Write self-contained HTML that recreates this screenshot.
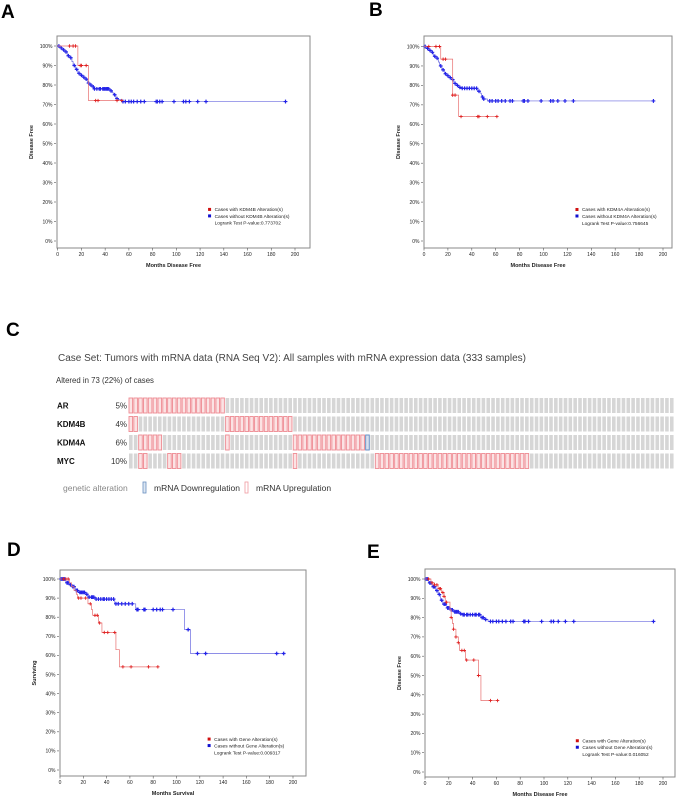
<!DOCTYPE html>
<html><head><meta charset="utf-8"><style>
html,body{margin:0;padding:0;background:#fff}
svg{display:block}
text{font-family:"Liberation Sans",sans-serif}
</style></head><body>
<svg id="fig" width="680" height="801" viewBox="0 0 680 801" xmlns="http://www.w3.org/2000/svg">
<text x="1" y="18" font-size="19" font-weight="bold">A</text>
<text x="369" y="16" font-size="19" font-weight="bold">B</text>
<text x="6" y="336" font-size="19" font-weight="bold">C</text>
<text x="7" y="556" font-size="19" font-weight="bold">D</text>
<text x="367" y="558" font-size="19" font-weight="bold">E</text>
<g id="oncoprint">
<text x="58" y="361" font-size="10" fill="#444">Case Set: Tumors with mRNA data (RNA Seq V2): All samples with mRNA expression data (333 samples)</text>
<text x="56" y="383" font-size="7.8" fill="#333">Altered in 73 (22%) of cases</text>
<text x="63" y="491" font-size="8.5" fill="#888">genetic alteration</text>
<rect x="143" y="482" width="3" height="11" fill="#dde6f2" stroke="#6a90c0" stroke-width="0.8"/>
<text x="154" y="491" font-size="8.5" fill="#333">mRNA Downregulation</text>
<rect x="245" y="482" width="3" height="11" fill="#fff" stroke="#f09aa0" stroke-width="0.8"/>
<text x="256" y="491" font-size="8.5" fill="#333">mRNA Upregulation</text>
</g>
</svg>
<script>
const NS="http://www.w3.org/2000/svg";
const svg=document.getElementById('fig');
function mk(tag,attrs,parent){const e=document.createElementNS(NS,tag);for(const k in attrs)e.setAttribute(k,attrs[k]);(parent||svg).appendChild(e);return e;}

// ---------- Oncoprint data ----------
const genes=["AR","KDM4B","KDM4A","MYC"];
const genePct=["5%","4%","6%","10%"];
const sampleCount=113;
const upAR=[0,19];
const upKDM4B=[[0,1],[20,33]];
const upKDM4A=[[2,6],[20,20],[34,48]];
const downKDM4A=[[49,49]];
const upMYC=[[2,3],[8,10],[34,34],[51,82]];
const upRanges=[[upAR],upKDM4B,upKDM4A,upMYC];
const downRanges=[[],[],downKDM4A,[]];

(function(){
  const g=document.getElementById('oncoprint');
  const x0=129,pitch=4.83,bw=3.6,rowTop=[398,416.5,435,453.5],bh=15;
  function inR(r,i){return r.some(a=>i>=a[0]&&i<=a[1]);}
  genes.forEach((gn,r)=>{
    const t=mk('text',{x:57,y:rowTop[r]+10.5,'font-size':8,'font-weight':'bold',fill:'#111'},g);t.textContent=gn;
    
    
    const p=mk('text',{x:127,y:rowTop[r]+10.5,'font-size':8,fill:'#333','text-anchor':'end'},g);p.textContent=genePct[r];
    
    
    for(let i=0;i<sampleCount;i++){
      const up=inR(upRanges[r],i),dn=inR(downRanges[r],i);
      const a={x:x0+i*pitch,y:rowTop[r],width:bw,height:bh,fill:'#d6d6d6'};
      if(up){a.fill='#fbe3e4';a.stroke='#ee8a92';a['stroke-width']=0.9;}
      if(dn){a.fill='#d6e0ee';a.stroke='#5d86bf';a['stroke-width']=0.9;}
      const c=mk('rect',a,g);
      
      
    }
  });
})();

// ---------- KM data ----------
const aRedT=[0,17,26,55];const aRedS=[100,90,72,72];
const aRedC=[10,13,15,19,20,24,32,34,50,54];
const aBlueT=[0,2,4,6,8,10,12,13,15,17,19,21,23,25,27,29,31,33,44,46,47,49,51,54,192];
const aBlueS=[100,99,98,97,95,94,92,90,88,86,85,84,83,81,80,79,78,78,77,76,75,73,72.5,71.5,71.5];
const aBlueC=[1,3,5,7,9,11,14,16,18,20,22,24,26,28,30,31,33,35,36,38,39,40,41,42,43,45,48,50,55,57,60,62,64,67,70,73,83,84,86,88,98,106,108,111,118,125,192];
const bRedT=[0,14,24,29,61];const bRedS=[100,93.5,75,64,64];
const bRedC=[4,10,13,16,18,24,26,31,45,46,53,61];
const bBlueT=[0,2,4,6,8,10,12,13,15,17,19,21,23,25,27,29,31,33,45,47,48,50,53,192];
const bBlueS=[100,99,98,97,95,94,92,90,88,86,85,84,83,81,80,79,78.5,78.5,77,76,74,73,72,72];
const bBlueC=[1,3,5,7,9,11,14,16,18,20,22,24,26,28,30,32,34,36,38,40,42,44,46,49,50,55,57,60,62,65,68,72,74,83,84,87,98,106,108,112,118,125,192];
const dRedT=[0,8,10,12,14,15,24,27,28,33,36,48,51,85];const dRedS=[100,98,96,94,92,90,87,84,81,77,72,63,54,54];
const dRedC=[3,5,7,16,18,22,26,30,32,34,38,41,47,54,61,76,84];
const dBlueT=[0,5,8,10,13,16,22,24,30,47,65,107,112,192];const dBlueS=[100,98,97,96,94,93,92,90.5,89.5,87,84,73.5,61,61];
const dBlueC=[1,2,3,4,6,7,9,11,12,14,15,17,18,19,20,21,23,25,27,28,29,31,33,35,37,38,40,42,44,46,48,50,53,56,59,62,66,67,72,73,80,83,86,88,97,110,118,125,186,192];
const eRedT=[0,5,8,11,14,16,17,21,22,23,24,26,28,29,34,45,47,61];
const eRedS=[100,98,97,95,93,91,88,84,80,77,74,70,67,63,58,50,37,37];
const eRedC=[3,6,8,10,12,13,15,16,18,22,24,26,28,31,33,35,41,45,55,61];
const eBlueT=[0,3,6,9,11,13,15,18,21,24,29,31,47,50,53,192];
const eBlueS=[100,98,96,94,92,89,87,85,84,83,82,81.5,80,79,78,78];
const eBlueC=[1,2,4,5,7,8,10,12,14,16,17,19,20,22,23,25,26,27,28,30,32,33,35,36,38,40,42,43,45,46,48,49,51,55,57,60,62,65,68,72,74,83,84,87,98,106,108,112,118,125,192];

const yTicks=[0,10,20,30,40,50,60,70,80,90,100];
const xTicks=[0,20,40,60,80,100,120,140,160,180,200];

function km(cfg){
  const {id,box,x0,x200,y100,y0,ytitle,xtitle,leg,p}=cfg;
  const g=mk('g',{});
  
  
  const X=v=>x0+(x200-x0)*v/200, Y=v=>y0+(y100-y0)*v/100;
  const b=mk('rect',{x:box[0],y:box[1],width:box[2]-box[0],height:box[3]-box[1],fill:'none',stroke:'#8a8a8a','stroke-width':1},g);
  
  
  yTicks.forEach(v=>{
    const l=mk('line',{x1:box[0]-3,x2:box[0]-1,y1:Y(v),y2:Y(v),stroke:'#555','stroke-width':0.6},g);
    
    
    const t=mk('text',{x:box[0]-4.5,y:Y(v)+1.8,'font-size':5,'text-anchor':'end',fill:'#222'},g);t.textContent=v+'%';
    
    
  });
  xTicks.forEach(v=>{
    const l=mk('line',{x1:X(v),x2:X(v),y1:box[3],y2:box[3]+2.5,stroke:'#555','stroke-width':0.6},g);
    
    
    const t=mk('text',{x:X(v),y:box[3]+8,'font-size':5,'text-anchor':'middle',fill:'#222'},g);t.textContent=v;
    
    
  });
  const cy=(box[1]+box[3])/2, tx=box[0]-24;
  const yt=mk('text',{x:tx,y:cy,'font-size':5.5,'font-weight':'bold','text-anchor':'middle',transform:`rotate(-90 ${tx} ${cy})`,fill:'#222'},g);yt.textContent=ytitle;
  
  
  const xt=mk('text',{x:(box[0]+box[2])/2-10,y:box[3]+19,'font-size':5.5,'font-weight':'bold','text-anchor':'middle',fill:'#222'},g);xt.textContent=xtitle;
  
  
  function series(T,S,C,col,lineCol,name,sz,sw){
    let d='M'+X(T[0])+','+Y(S[0]);
    for(let i=1;i<T.length;i++){d+=' H'+X(T[i])+' V'+Y(S[i]);}
    const pth=mk('path',{d,fill:'none',stroke:lineCol,'stroke-width':0.7},g);
    
    
    const at=t=>{let s=S[0];for(let i=0;i<T.length;i++){if(T[i]<=t)s=S[i];}return s;};
    C.forEach(t=>{
      const cx=X(t),yy=Y(at(t));
      const m=mk('path',{d:`M${cx-sz},${yy}H${cx+sz}M${cx},${yy-sz}V${yy+sz}`,stroke:col,'stroke-width':sw},g);
      
      
    });
  }
  series(p.bt,p.bs,p.bc,'#2222e8','#6a6ae0','altered-without',1.9,1.2);
  series(p.rt,p.rs,p.rc,'#e02020','#e87070','altered-with',1.7,0.9);
  const lx=X(128),ly=Y(16.2);
  const r1=mk('rect',{x:lx-1.5,y:ly-1.5,width:3,height:3,fill:'#d01010'},g);
  
  
  const r2=mk('rect',{x:lx-1.5,y:ly+5,width:3,height:3,fill:'#1010d0'},g);
  
  
  [leg[0],leg[1],leg[2]].forEach((s,i)=>{
    const t=mk('text',{x:lx+5,y:ly+1.7+i*6.8,'font-size':4.8,fill:'#222'},g);t.textContent=s;
    
    
  });
}
km({id:'a',box:[57,36,310,248],x0:57.7,x200:295,y100:46,y0:241,ytitle:'Disease Free',xtitle:'Months Disease Free',
  leg:['Cases with KDM4B Alteration(s)','Cases without KDM4B Alteration(s)','Logrank Test P-value:0.773702'],
  p:{rt:aRedT,rs:aRedS,rc:aRedC,bt:aBlueT,bs:aBlueS,bc:aBlueC}});
km({id:'b',box:[424,36,672,248],x0:424,x200:663,y100:46.5,y0:241,ytitle:'Disease Free',xtitle:'Months Disease Free',
  leg:['Cases with KDM4A Alteration(s)','Cases without KDM4A Alteration(s)','Logrank Test P-value:0.756645'],
  p:{rt:bRedT,rs:bRedS,rc:bRedC,bt:bBlueT,bs:bBlueS,bc:bBlueC}});
km({id:'d',box:[60,570,306,776],x0:60,x200:293,y100:579,y0:770,ytitle:'Surviving',xtitle:'Months Survival',
  leg:['Cases with Gene Alteration(s)','Cases without Gene Alteration(s)','Logrank Test P-value:0.009317'],
  p:{rt:dRedT,rs:dRedS,rc:dRedC,bt:dBlueT,bs:dBlueS,bc:dBlueC}});
km({id:'e',box:[425,569,675,777],x0:425,x200:663,y100:579,y0:772,ytitle:'Disease Free',xtitle:'Months Disease Free',
  leg:['Cases with Gene Alteration(s)','Cases without Gene Alteration(s)','Logrank Test P-value:0.016052'],
  p:{rt:eRedT,rs:eRedS,rc:eRedC,bt:eBlueT,bs:eBlueS,bc:eBlueC}});
</script>
</body></html>
